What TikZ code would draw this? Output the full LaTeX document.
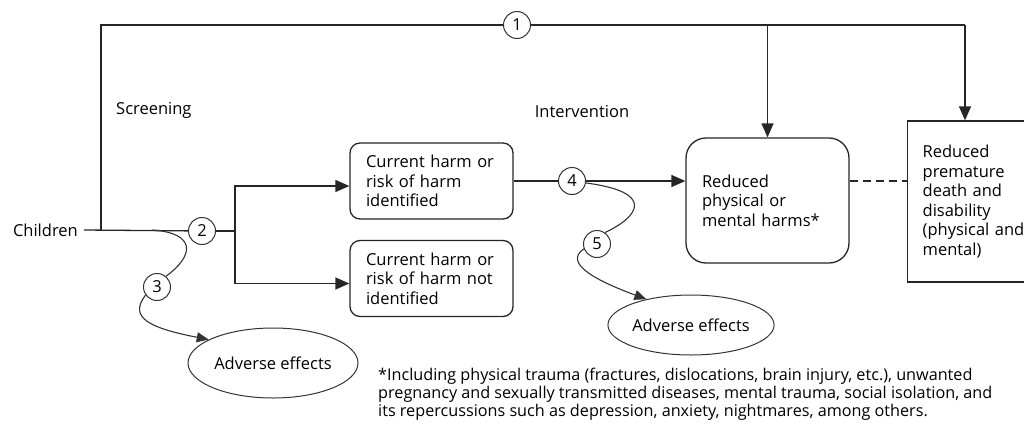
\documentclass[tikz,border=0pt]{standalone}
\usepackage{fontspec}
\setmainfont{Open Sans}
\usetikzlibrary{arrows.meta,shapes.geometric}

\tikzset{
  line/.style={line width=1.3pt, draw=black!85},
  box/.style={line, rounded corners=10pt, align=left, inner xsep=16pt, inner ysep=0pt, text width=131pt, minimum height=76pt},
  num/.style={draw=black!80, circle, line width=1pt, minimum size=27pt, inner sep=0pt, fill=white},
  effect/.style={draw=black!80, ellipse, line width=1pt, inner sep=0pt},
  arr/.style={line, -{Triangle[length=14pt,width=12pt]}},
  curv/.style={draw=black!80, line width=1.1pt},
  carr/.style={curv, -{Triangle[length=12pt,width=10pt]}}
}

\begin{document}
\begin{tikzpicture}[x=1pt,y=-1pt, font=\fontsize{16.5}{19.6}\selectfont]
\useasboundingbox (0,0) rectangle (1024,431);

\node[anchor=east, inner sep=0pt] (child) at (78,230) {Children};
\coordinate (corner) at (101,230);
\node[num] (n1) at (517,25) {1};
\coordinate (topr) at (965,25);
\node[anchor=west, inner sep=0pt] (screen) at (116,110) {Screening};
\node[inner sep=0pt] (interv) at (582,112) {Intervention};

\node[num] (n2) at (202,231) {2};
\coordinate (split) at (235,231);
\node[box] (ident) at (431.5,181) {Current harm or\\risk of harm\\identified};
\node[box] (notid) at (431.5,278.5) {Current harm or\\risk of harm not\\identified};
\node[num] (n4) at (572,181) {4};
\node[box, rounded corners=20pt, minimum height=125pt] (harm) at (767.5,200.5) {Reduced\\physical or\\mental harms*};
\node[line, draw, anchor=west, align=left, inner xsep=15pt, inner ysep=0pt, text width=170pt, minimum height=161pt] (death) at (907,201.5) {Reduced\\premature\\death and\\disability\\(physical and\\mental)};

\node[num] (n3) at (157,287) {3};
\node[num] (n5) at (597,244) {5};
\node[effect, minimum width=170pt, minimum height=70pt] (adv1) at (273,363) {Adverse effects};
\node[effect, minimum width=146pt, minimum height=60pt] (adv2) at (691,325) {Adverse effects};

\node[anchor=north west, align=left, inner sep=0pt, font=\fontsize{16.2}{18}\selectfont] (note) at (378,368) {*Including physical trauma (fractures, dislocations, brain injury, etc.), unwanted\\pregnancy and sexually transmitted diseases, mental trauma, social isolation, and\\its repercussions such as depression, anxiety, nightmares, among others.};

% key question 1
\draw[line] (child.east) ++(6,0) -- (n2);
\draw[line] (corner) |- (n1);
\draw[line] (n1) -- (topr);
\draw[arr] (topr) -- (topr |- death.north);
\draw[arr] (harm.north |- n1) -- (harm.north);

% screening
\draw[line] (n2) -- (split);
\draw[arr] (split) |- ([yshift=-5pt]ident.west);
\draw[arr] (split) |- ([yshift=-5pt]notid.west);
\coordinate (c3s) at (152,230);
\draw[curv] (c3s) .. controls (197,233) and (194,256) .. (n3.50);
\draw[carr] (n3.215) .. controls (128,318) and (150,328) .. (adv1.160);

% intervention
\draw[line] (ident.east |- n4) -- (n4);
\draw[arr] (n4) -- (harm.west |- n4);
\draw[line, dashed, dash pattern=on 8pt off 5pt] (harm.east |- n4) -- (death.west |- n4);
\draw[curv] (n4.-8) .. controls (655,192) and (640,216) .. (n5.55);
\draw[carr] (n5.200) .. controls (562,264) and (600,282) .. (adv2.150);
\end{tikzpicture}
\end{document}
